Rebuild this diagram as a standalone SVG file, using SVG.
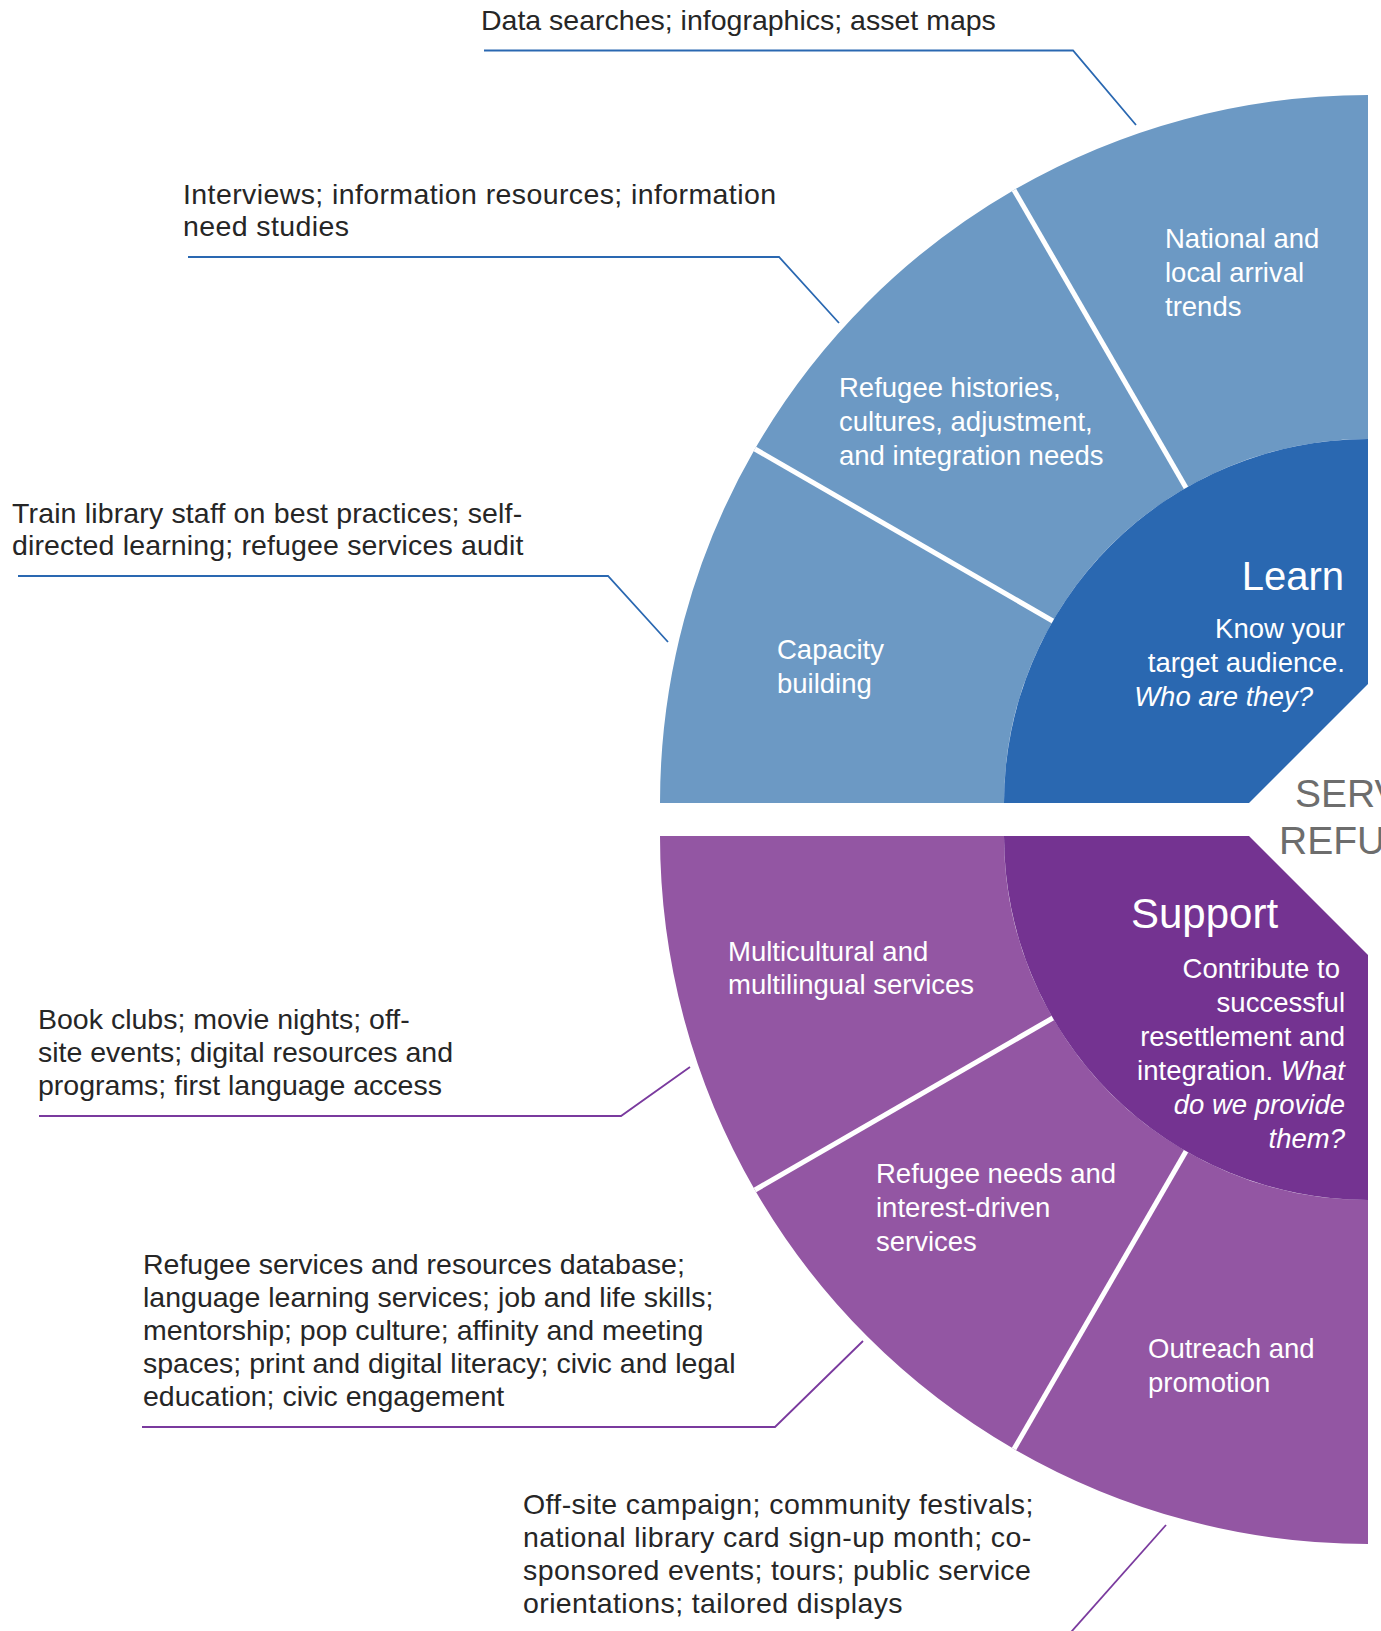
<svg xmlns="http://www.w3.org/2000/svg" width="1381" height="1631" viewBox="0 0 1381 1631">
<style>
  text { font-family: "Liberation Sans", Arial, sans-serif; }
  .lbl { font-size: 28.5px; fill: #262626; }
  .wide { letter-spacing: 0.4px; }
  .wl { font-size: 27.5px; fill: #ffffff; }
  .hd { font-size: 40px; fill: #ffffff; }
  .end { text-anchor: end; }
  .it { font-style: italic; }
  .sep { stroke: #ffffff; stroke-width: 5; fill: none; }
  .ldb { stroke: #2A68B1; stroke-width: 1.8; fill: none; }
  .ldp { stroke: #7A3A9E; stroke-width: 1.8; fill: none; }
  .lb { fill: #6C99C4; }
  .db { fill: #2A68B1; }
  .lp { fill: #9356A3; }
  .dp { fill: #743391; }
  .ttl { font-size: 39px; fill: #6D6D6D; }
</style>
<rect x="0" y="0" width="1381" height="1631" fill="#ffffff"/>

<!-- Upper (Learn) half -->
<g id="capacity-building">
  <path class="lb" d="M 660 803 A 708 708 0 0 1 754.9 449 L 1052.8 621 A 364 364 0 0 0 1004 803 Z"/>
  <text class="wl" x="777" y="659">Capacity</text>
  <text class="wl" x="777" y="693">building</text>
</g>
<g id="refugee-histories">
  <path class="lb" d="M 754.9 449 A 708 708 0 0 1 1014 189.9 L 1186 487.8 A 364 364 0 0 0 1052.8 621 Z"/>
  <text class="wl" x="839" y="397">Refugee histories,</text>
  <text class="wl" x="839" y="431">cultures, adjustment,</text>
  <text class="wl" x="839" y="465">and integration needs</text>
</g>
<g id="arrival-trends">
  <path class="lb" d="M 1014 189.9 A 708 708 0 0 1 1368 95 L 1368 439 A 364 364 0 0 0 1186 487.8 Z"/>
  <text class="wl" x="1165" y="248">National and</text>
  <text class="wl" x="1165" y="282">local arrival</text>
  <text class="wl" x="1165" y="316">trends</text>
</g>
<g id="learn">
  <path class="db" d="M 1368 439 A 364 364 0 0 0 1004 803 L 1249 803 L 1368 684 Z"/>
  <text class="hd end" x="1344" y="590">Learn</text>
  <text class="wl end" x="1345" y="638">Know your</text>
  <text class="wl end" x="1345" y="672">target audience.</text>
  <text class="wl end it" x="1313" y="706">Who are they?</text>
</g>

<!-- Lower (Support) half -->
<g id="multicultural-services">
  <path class="lp" d="M 660 836 A 708 708 0 0 0 754.9 1190 L 1052.8 1018 A 364 364 0 0 1 1004 836 Z"/>
  <text class="wl" x="728" y="961">Multicultural and</text>
  <text class="wl" x="728" y="994">multilingual services</text>
</g>
<g id="interest-driven-services">
  <path class="lp" d="M 754.9 1190 A 708 708 0 0 0 1014 1449.1 L 1186 1151.2 A 364 364 0 0 1 1052.8 1018 Z"/>
  <text class="wl" x="876" y="1183">Refugee needs and</text>
  <text class="wl" x="876" y="1217">interest-driven</text>
  <text class="wl" x="876" y="1251">services</text>
</g>
<g id="outreach-promotion">
  <path class="lp" d="M 1014 1449.1 A 708 708 0 0 0 1368 1544 L 1368 1200 A 364 364 0 0 1 1186 1151.2 Z"/>
  <text class="wl" x="1148" y="1358">Outreach and</text>
  <text class="wl" x="1148" y="1392">promotion</text>
</g>
<g id="support">
  <path class="dp" d="M 1004 836 L 1249 836 L 1368 955 L 1368 1200 A 364 364 0 0 1 1004 836 Z"/>
  <text class="hd" x="1131" y="928" style="font-size:42px">Support</text>
  <text class="wl end" x="1340" y="978">Contribute to</text>
  <text class="wl end" x="1345" y="1012">successful</text>
  <text class="wl end" x="1345" y="1046">resettlement and</text>
  <text class="wl end" x="1345" y="1080">integration. <tspan class="it">What</tspan></text>
  <text class="wl end it" x="1345" y="1114">do we provide</text>
  <text class="wl end it" x="1345" y="1148">them?</text>
</g>

<g id="separators">
  <line class="sep" x1="1052.8" y1="621" x2="754.9" y2="449"/>
  <line class="sep" x1="1186" y1="487.8" x2="1014" y2="189.9"/>
  <line class="sep" x1="1052.8" y1="1018" x2="754.9" y2="1190"/>
  <line class="sep" x1="1186" y1="1151.2" x2="1014" y2="1449.1"/>
</g>

<g id="title">
  <text class="ttl" x="1295" y="807">SERV</text>
  <text class="ttl" x="1279" y="854">REFU</text>
</g>

<!-- Outer labels -->
<g id="label-data-searches">
  <text class="lbl" x="481" y="30">Data searches; infographics; asset maps</text>
</g>
<g id="label-interviews">
  <text class="lbl wide" x="183" y="204">Interviews; information resources; information</text>
  <text class="lbl wide" x="183" y="236">need studies</text>
</g>
<g id="label-train-staff">
  <text class="lbl" x="12" y="523" style="letter-spacing:0.15px">Train library staff on best practices; self-</text>
  <text class="lbl" x="12" y="555" style="letter-spacing:0.15px">directed learning; refugee services audit</text>
</g>
<g id="label-book-clubs">
  <text class="lbl" x="38" y="1029">Book clubs; movie nights; off-</text>
  <text class="lbl" x="38" y="1062">site events; digital resources and</text>
  <text class="lbl" x="38" y="1095">programs; first language access</text>
</g>
<g id="label-database">
  <text class="lbl" x="143" y="1274">Refugee services and resources database;</text>
  <text class="lbl" x="143" y="1307">language learning services; job and life skills;</text>
  <text class="lbl" x="143" y="1340">mentorship; pop culture; affinity and meeting</text>
  <text class="lbl" x="143" y="1373">spaces; print and digital literacy; civic and legal</text>
  <text class="lbl" x="143" y="1406">education; civic engagement</text>
</g>
<g id="label-off-site">
  <text class="lbl wide" x="523" y="1514">Off-site campaign; community festivals;</text>
  <text class="lbl wide" x="523" y="1547">national library card sign-up month; co-</text>
  <text class="lbl wide" x="523" y="1580">sponsored events; tours; public service</text>
  <text class="lbl wide" x="523" y="1613">orientations; tailored displays</text>
</g>

<g id="connectors">
  <polyline class="ldb" points="484,50.5 1073,50.5 1136,125"/>
  <polyline class="ldb" points="188,257 779,257 839,323"/>
  <polyline class="ldb" points="18,576 608,576 668,642"/>
  <polyline class="ldp" points="39,1116 621,1116 690,1067"/>
  <polyline class="ldp" points="142,1427 775,1427 863,1341"/>
  <polyline class="ldp" points="1166,1525 1064,1640"/>
</g>
</svg>
